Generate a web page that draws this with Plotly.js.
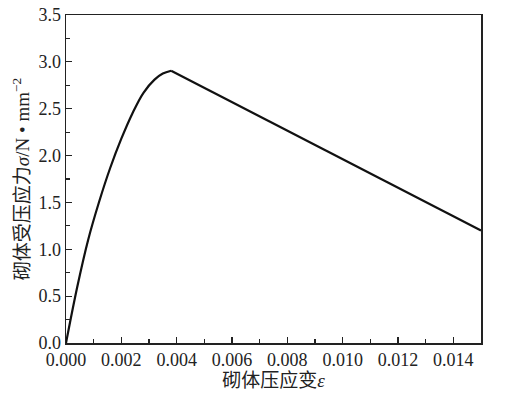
<!DOCTYPE html>
<html>
<head>
<meta charset="utf-8">
<script src="https://cdn.plot.ly/plotly-3.0.1.min.js"></script>
<style>html,body{margin:0;padding:0;background:#fff;}#chart{width:506px;height:397px;}</style>
</head>
<body>
<div id="chart"></div>
<script>
// ascending branch
const strainUp = [0, 0.0004, 0.0008, 0.0012, 0.0016, 0.0020, 0.0024, 0.0028, 0.0032, 0.0035, 0.0038];
const stressUp = [0, 0.59, 1.10, 1.51, 1.87, 2.18, 2.45, 2.67, 2.81, 2.875, 2.905];
// descending branch
const strainDown = [0.0038, 0.015];
const stressDown = [2.905, 1.20];
const xTitle = '砌体压应变<i>ε</i>';
const yTitle = '砌体受压应力<i>σ</i>/N • mm<sup>−2</sup>';

const fontFam = '"Liberation Serif", "Noto Sans CJK SC", serif';
const lineStyle = {color: '#111', width: 2.2};
Plotly.newPlot('chart', [
  {x: strainUp, y: stressUp, type: 'scatter', mode: 'lines',
   line: Object.assign({shape: 'spline', smoothing: 1}, lineStyle), hoverinfo: 'skip'},
  {x: strainDown, y: stressDown, type: 'scatter', mode: 'lines',
   line: lineStyle, hoverinfo: 'skip'}
], {
  width: 506, height: 397,
  margin: {l: 66, r: 25, t: 15, b: 54},
  paper_bgcolor: '#fff', plot_bgcolor: '#fff',
  showlegend: false,
  font: {family: fontFam, color: '#222', size: 18},
  xaxis: {
    range: [0, 0.015], dtick: 0.002, tick0: 0, tickformat: '.3f',
    ticks: 'inside', ticklen: 6, tickwidth: 1.2, tickcolor: '#222',
    minor: {dtick: 0.001, ticks: 'inside', ticklen: 4, tickwidth: 1.2, tickcolor: '#222'},
    showline: true, linecolor: '#222', linewidth: 1.5, mirror: true,
    showgrid: false, zeroline: false,
    tickfont: {size: 18, family: fontFam},
    title: {text: xTitle, font: {size: 19, family: fontFam}, standoff: 2}
  },
  yaxis: {
    range: [0, 3.5], dtick: 0.5, tick0: 0, tickformat: '.1f',
    ticks: 'inside', ticklen: 6, tickwidth: 1.2, tickcolor: '#222',
    minor: {dtick: 0.25, ticks: 'inside', ticklen: 4, tickwidth: 1.2, tickcolor: '#222'},
    showline: true, linecolor: '#222', linewidth: 1.5, mirror: true,
    showgrid: false, zeroline: false,
    tickfont: {size: 18, family: fontFam},
    title: {text: yTitle, font: {size: 19, family: fontFam}, standoff: 4}
  }
}, {displayModeBar: false, staticPlot: true});
</script>
</body>
</html>
